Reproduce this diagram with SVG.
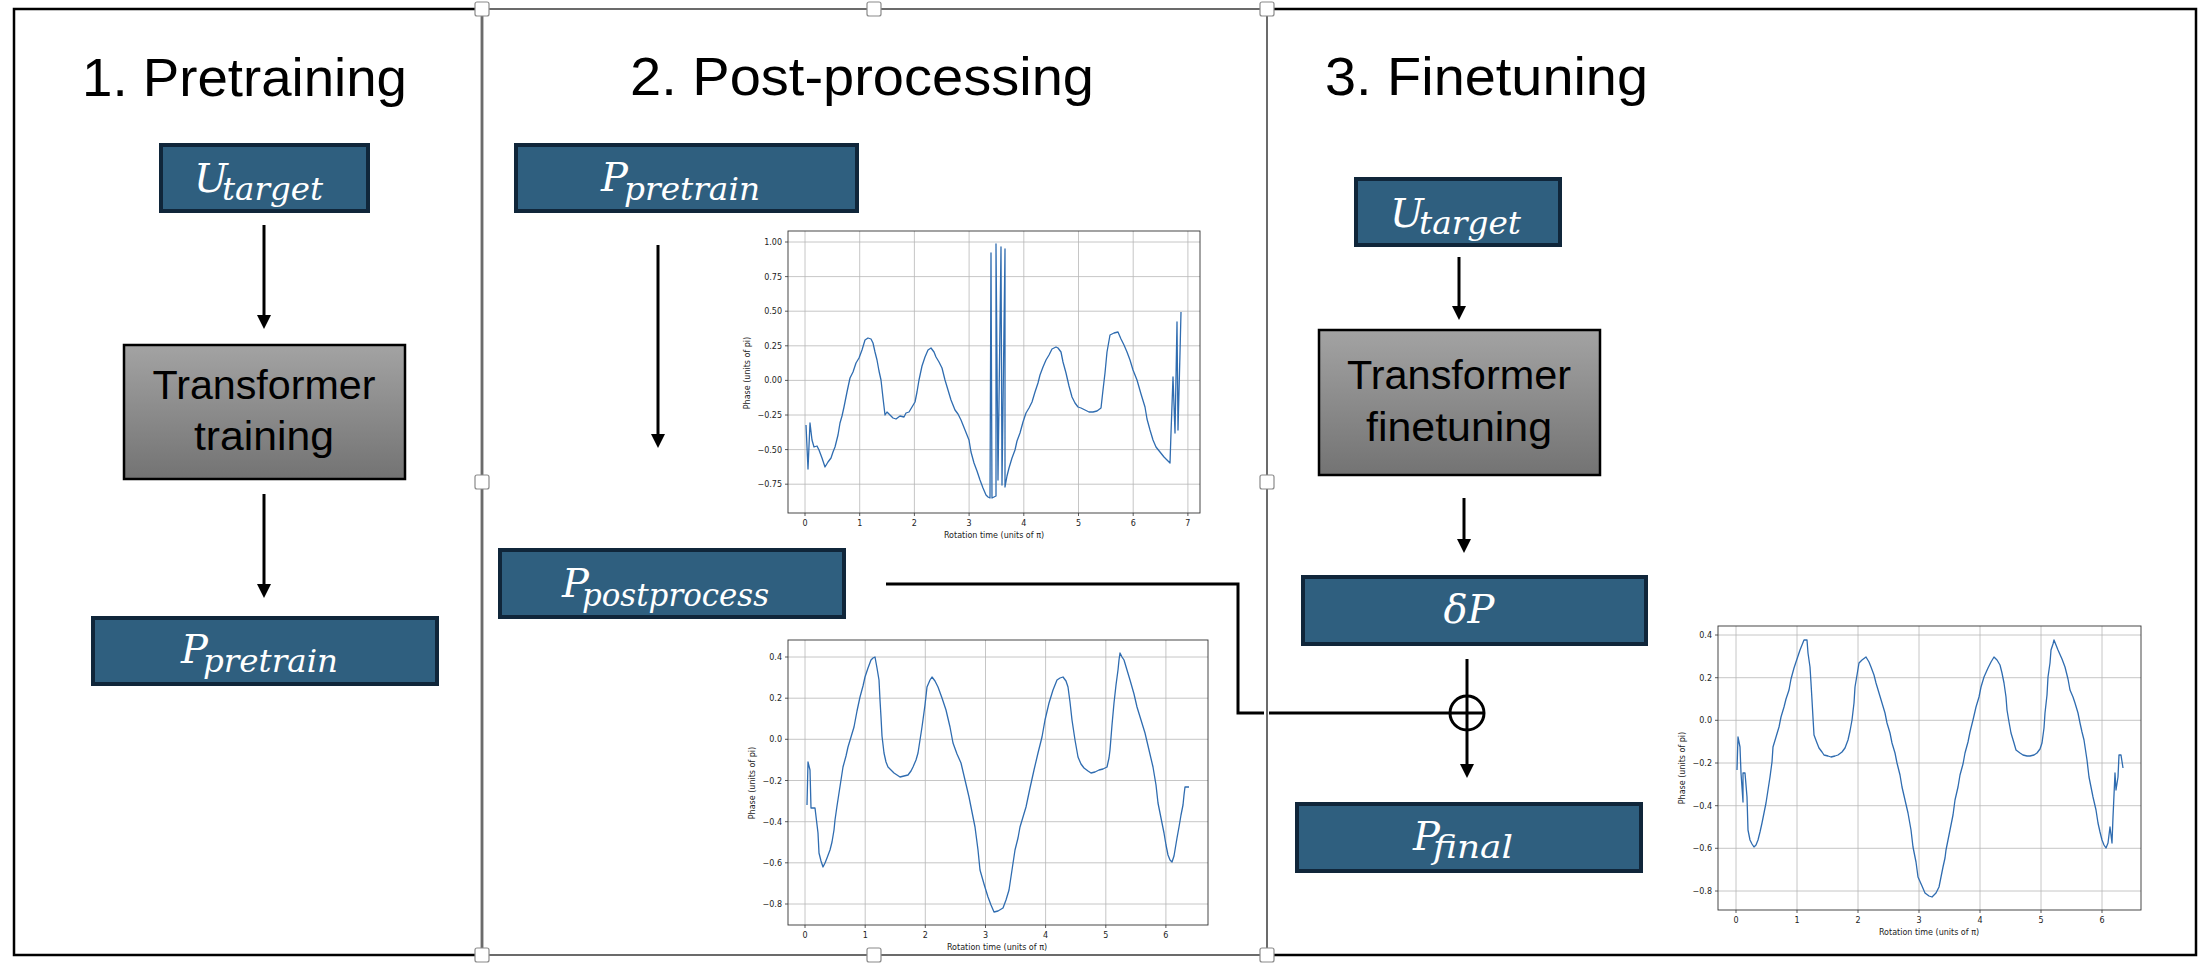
<svg xmlns="http://www.w3.org/2000/svg" width="2202" height="968" viewBox="0 0 2202 968">
<style>
.title{font-family:"Liberation Sans",Arial,sans-serif;font-size:54px;fill:#000}
.tr{font-family:"Liberation Sans",Arial,sans-serif;font-size:40px;fill:#000;text-anchor:middle}
.box{fill:#2f5f7f;stroke:#10263a;stroke-width:4}
.gbox{fill:url(#gg);stroke:#000;stroke-width:2.5}
.m{font-family:"DejaVu Serif",serif;font-style:italic;font-size:40px;fill:#fff}
.s{font-size:31px}
.con{stroke:#000;stroke-width:3;fill:none}
.frame{fill:none;stroke:#000;stroke-width:2.5}
.sel{fill:none;stroke:#6b6b6b;stroke-width:2}
.hdl{fill:#fff;stroke:#8a8a8a;stroke-width:1.2}
.ax{fill:none;stroke:#333;stroke-width:0.9}
.grid{stroke:#b8b8b8;stroke-width:0.8}
.tk{stroke:#333;stroke-width:0.8}
.tl{font-family:"DejaVu Sans",sans-serif;font-size:8px;fill:#222}
.cv{fill:none;stroke:#2f6cb0;stroke-width:1.3;stroke-linejoin:round}
</style>
<defs>
<linearGradient id="gg" x1="0" y1="0" x2="0" y2="1">
<stop offset="0" stop-color="#a3a3a3"/>
<stop offset="1" stop-color="#737373"/>
</linearGradient>
<marker id="ah" viewBox="0 0 14 14" refX="4" refY="7" markerWidth="14" markerHeight="14" markerUnits="userSpaceOnUse" orient="auto">
<path d="M0,0 L14,7 L0,14 z" fill="#000"/>
</marker>
</defs>
<rect width="2202" height="968" fill="#fff"/>

<g id="panels">
<rect class="frame" x="14" y="9" width="468" height="946"/>
<polyline class="frame" points="1267,9 2196,9 2196,955 1267,955"/>
<rect class="sel" x="482" y="9" width="785" height="946"/>
</g>

<g id="titles">
<text class="title" x="82" y="96" textLength="325" lengthAdjust="spacingAndGlyphs">1. Pretraining</text>
<text class="title" x="630" y="95" textLength="464" lengthAdjust="spacingAndGlyphs">2. Post-processing</text>
<text class="title" x="1325" y="95" textLength="323" lengthAdjust="spacingAndGlyphs">3. Finetuning</text>
</g>

<g id="u-target-1">
<rect class="box" x="161" y="145" width="207" height="66"/>
<text class="m" x="194" y="192">U<tspan class="s" x="222" y="200" textLength="101" lengthAdjust="spacingAndGlyphs">target</tspan></text>
</g>

<g id="transformer-training">
<rect class="gbox" x="124" y="345" width="281" height="134"/>
<text class="tr" x="264" y="399" textLength="223" lengthAdjust="spacingAndGlyphs">Transformer</text>
<text class="tr" x="264" y="450" textLength="140" lengthAdjust="spacingAndGlyphs">training</text>
</g>

<g id="p-pretrain-1">
<rect class="box" x="93" y="618" width="344" height="66"/>
<text class="m" x="181" y="663">P<tspan class="s" x="203" y="672" textLength="135" lengthAdjust="spacingAndGlyphs">pretrain</tspan></text>
</g>

<g id="p-pretrain-2">
<rect class="box" x="516" y="145" width="341" height="66"/>
<text class="m" x="601" y="191">P<tspan class="s" x="624" y="200" textLength="136" lengthAdjust="spacingAndGlyphs">pretrain</tspan></text>
</g>

<g id="p-postprocess">
<rect class="box" x="500" y="550" width="344" height="67"/>
<text class="m" x="562" y="597">P<tspan class="s" x="582" y="606" textLength="187" lengthAdjust="spacingAndGlyphs">postprocess</tspan></text>
</g>

<g id="u-target-3">
<rect class="box" x="1356" y="179" width="204" height="66"/>
<text class="m" x="1390" y="227">U<tspan class="s" x="1419" y="234" textLength="102" lengthAdjust="spacingAndGlyphs">target</tspan></text>
</g>

<g id="transformer-finetuning">
<rect class="gbox" x="1319" y="330" width="281" height="145"/>
<text class="tr" x="1459" y="389" textLength="224" lengthAdjust="spacingAndGlyphs">Transformer</text>
<text class="tr" x="1459" y="441" textLength="186" lengthAdjust="spacingAndGlyphs">finetuning</text>
</g>

<g id="delta-p">
<rect class="box" x="1303" y="577" width="343" height="67"/>
<text class="m" x="1469" y="623" text-anchor="middle">δP</text>
</g>

<g id="p-final">
<rect class="box" x="1297" y="804" width="344" height="67"/>
<text class="m" x="1413" y="850">P<tspan class="s" x="1433" y="858" textLength="80" lengthAdjust="spacingAndGlyphs">final</tspan></text>
</g>

<g id="chart-pretrain">
<g class="grid">
<line x1="805" y1="231" x2="805" y2="513"/><line x1="859.7" y1="231" x2="859.7" y2="513"/><line x1="914.4" y1="231" x2="914.4" y2="513"/><line x1="969.1" y1="231" x2="969.1" y2="513"/><line x1="1023.8" y1="231" x2="1023.8" y2="513"/><line x1="1078.5" y1="231" x2="1078.5" y2="513"/><line x1="1133.2" y1="231" x2="1133.2" y2="513"/><line x1="1187.9" y1="231" x2="1187.9" y2="513"/>
<line x1="788" y1="242" x2="1200" y2="242"/><line x1="788" y1="276.6" x2="1200" y2="276.6"/><line x1="788" y1="311.2" x2="1200" y2="311.2"/><line x1="788" y1="345.8" x2="1200" y2="345.8"/><line x1="788" y1="380.4" x2="1200" y2="380.4"/><line x1="788" y1="415" x2="1200" y2="415"/><line x1="788" y1="449.6" x2="1200" y2="449.6"/><line x1="788" y1="484.2" x2="1200" y2="484.2"/>
</g>
<polyline class="cv" points="806,425 808,469 810,423 812,440 814,447 817,446 819,450 822,458 825,467 828,462 831,458 833,452 835,447 838,435 840,423 842,416 844,407 847,392 850,378 853,372 856,363 859,358 862,350 865,340 868,338 871,339 873,343 875,352 877,360 879,371 881,380 883,398 885,415 887,412 890,415 893,418 896,419 900,416 904,417 906,413 909,412 912,407 915,402 917,392 919,380 922,366 925,357 928,350 931,348 934,352 936,357 939,362 942,368 945,380 948,390 951,400 955,410 958,414 961,420 965,430 969,440 971,452 974,463 977,471 980,480 983,488 986,495 988,497 990,498 991,253 992,498 994,497 996,496 996,244 998,480 1001,247 1002,485 1005,249 1005,487 1007,476 1009,468 1012,458 1015,450 1017,441 1020,433 1023,422 1026,413 1029,408 1032,402 1035,392 1038,383 1040,375 1043,367 1046,360 1049,355 1052,349 1056,347 1058,348 1061,352 1063,362 1066,373 1069,386 1072,397 1075,403 1078,407 1081,408 1085,410 1089,412 1093,412 1097,411 1101,408 1103,390 1105,373 1107,352 1110,335 1114,333 1118,332 1121,339 1124,345 1127,352 1130,360 1133,370 1137,380 1141,394 1145,407 1147,419 1150,430 1153,440 1156,447 1160,452 1164,457 1167,460 1170,463 1171,433 1173,377 1175,433 1177,322 1178,430 1180,353 1181,312"/>
<rect class="ax" x="788" y="231" width="412" height="282"/>
<g class="tk">
<line x1="785" y1="242" x2="788" y2="242"/><line x1="785" y1="276.6" x2="788" y2="276.6"/><line x1="785" y1="311.2" x2="788" y2="311.2"/><line x1="785" y1="345.8" x2="788" y2="345.8"/><line x1="785" y1="380.4" x2="788" y2="380.4"/><line x1="785" y1="415" x2="788" y2="415"/><line x1="785" y1="449.6" x2="788" y2="449.6"/><line x1="785" y1="484.2" x2="788" y2="484.2"/>
<line x1="805" y1="513" x2="805" y2="516"/><line x1="859.7" y1="513" x2="859.7" y2="516"/><line x1="914.4" y1="513" x2="914.4" y2="516"/><line x1="969.1" y1="513" x2="969.1" y2="516"/><line x1="1023.8" y1="513" x2="1023.8" y2="516"/><line x1="1078.5" y1="513" x2="1078.5" y2="516"/><line x1="1133.2" y1="513" x2="1133.2" y2="516"/><line x1="1187.9" y1="513" x2="1187.9" y2="516"/>
</g>
<g class="tl" text-anchor="end">
<text x="782" y="245">1.00</text><text x="782" y="279.6">0.75</text><text x="782" y="314.2">0.50</text><text x="782" y="348.8">0.25</text><text x="782" y="383.4">0.00</text><text x="782" y="418">−0.25</text><text x="782" y="452.6">−0.50</text><text x="782" y="487.2">−0.75</text>
</g>
<g class="tl" text-anchor="middle">
<text x="805" y="526">0</text><text x="859.7" y="526">1</text><text x="914.4" y="526">2</text><text x="969.1" y="526">3</text><text x="1023.8" y="526">4</text><text x="1078.5" y="526">5</text><text x="1133.2" y="526">6</text><text x="1187.9" y="526">7</text>
<text x="994" y="538">Rotation time (units of π)</text>
<text transform="translate(750,373) rotate(-90)">Phase (units of pi)</text>
</g>
</g>

<g id="chart-postprocess">
<g class="grid">
<line x1="805" y1="640" x2="805" y2="925"/><line x1="865.2" y1="640" x2="865.2" y2="925"/><line x1="925.3" y1="640" x2="925.3" y2="925"/><line x1="985.5" y1="640" x2="985.5" y2="925"/><line x1="1045.6" y1="640" x2="1045.6" y2="925"/><line x1="1105.8" y1="640" x2="1105.8" y2="925"/><line x1="1165.9" y1="640" x2="1165.9" y2="925"/>
<line x1="788" y1="657" x2="1208" y2="657"/><line x1="788" y1="698.2" x2="1208" y2="698.2"/><line x1="788" y1="739.3" x2="1208" y2="739.3"/><line x1="788" y1="780.5" x2="1208" y2="780.5"/><line x1="788" y1="821.7" x2="1208" y2="821.7"/><line x1="788" y1="862.8" x2="1208" y2="862.8"/><line x1="788" y1="904" x2="1208" y2="904"/>
</g>
<polyline class="cv" points="807,805 808,762 810,770 811,808 815,808 818,833 819,853 821,861 823,867 825,863 827,858 830,850 832,842 834,830 835,820 837,806 839,793 841,780 843,767 846,756 848,747 851,737 854,727 857,711 860,697 863,686 865,677 868,668 871,660 873,658 875,657 877,668 879,680 880,700 881,717 882,736 884,753 886,762 888,767 891,770 894,773 897,775 900,777 904,776 908,775 911,771 913,767 916,760 918,753 920,740 922,727 925,705 927,687 930,680 932,677 935,681 938,687 942,698 946,710 950,727 953,743 957,754 961,763 965,780 969,797 972,812 975,827 978,850 980,870 984,884 988,897 991,905 994,912 998,911 1003,908 1006,900 1009,890 1012,870 1015,850 1018,838 1020,827 1023,817 1026,807 1030,788 1034,770 1038,753 1042,737 1045,720 1049,703 1053,690 1057,680 1060,678 1063,677 1066,681 1068,687 1070,702 1072,720 1075,740 1078,757 1081,764 1084,768 1088,771 1091,773 1095,772 1099,770 1103,769 1107,767 1109,758 1110,750 1112,725 1114,703 1116,685 1118,670 1119,660 1120,653 1122,657 1124,660 1127,670 1130,680 1134,694 1137,707 1141,720 1145,733 1149,750 1153,767 1156,785 1158,803 1161,818 1164,833 1166,845 1168,855 1170,860 1172,862 1174,856 1175,850 1177,838 1179,827 1181,815 1183,805 1184,795 1185,787 1189,787"/>
<rect class="ax" x="788" y="640" width="420" height="285"/>
<g class="tk">
<line x1="785" y1="657" x2="788" y2="657"/><line x1="785" y1="698.2" x2="788" y2="698.2"/><line x1="785" y1="739.3" x2="788" y2="739.3"/><line x1="785" y1="780.5" x2="788" y2="780.5"/><line x1="785" y1="821.7" x2="788" y2="821.7"/><line x1="785" y1="862.8" x2="788" y2="862.8"/><line x1="785" y1="904" x2="788" y2="904"/>
<line x1="805" y1="925" x2="805" y2="928"/><line x1="865.2" y1="925" x2="865.2" y2="928"/><line x1="925.3" y1="925" x2="925.3" y2="928"/><line x1="985.5" y1="925" x2="985.5" y2="928"/><line x1="1045.6" y1="925" x2="1045.6" y2="928"/><line x1="1105.8" y1="925" x2="1105.8" y2="928"/><line x1="1165.9" y1="925" x2="1165.9" y2="928"/>
</g>
<g class="tl" text-anchor="end">
<text x="782" y="660">0.4</text><text x="782" y="701.2">0.2</text><text x="782" y="742.3">0.0</text><text x="782" y="783.5">−0.2</text><text x="782" y="824.7">−0.4</text><text x="782" y="865.8">−0.6</text><text x="782" y="907">−0.8</text>
</g>
<g class="tl" text-anchor="middle">
<text x="805" y="938">0</text><text x="865.2" y="938">1</text><text x="925.3" y="938">2</text><text x="985.5" y="938">3</text><text x="1045.6" y="938">4</text><text x="1105.8" y="938">5</text><text x="1165.9" y="938">6</text>
<text x="997" y="950">Rotation time (units of π)</text>
<text transform="translate(755,783) rotate(-90)">Phase (units of pi)</text>
</g>
</g>

<g id="chart-final">
<g class="grid">
<line x1="1736" y1="626" x2="1736" y2="910"/><line x1="1797" y1="626" x2="1797" y2="910"/><line x1="1858" y1="626" x2="1858" y2="910"/><line x1="1919" y1="626" x2="1919" y2="910"/><line x1="1980" y1="626" x2="1980" y2="910"/><line x1="2041" y1="626" x2="2041" y2="910"/><line x1="2102" y1="626" x2="2102" y2="910"/>
<line x1="1718" y1="635" x2="2141" y2="635"/><line x1="1718" y1="677.7" x2="2141" y2="677.7"/><line x1="1718" y1="720.3" x2="2141" y2="720.3"/><line x1="1718" y1="763" x2="2141" y2="763"/><line x1="1718" y1="805.7" x2="2141" y2="805.7"/><line x1="1718" y1="848.3" x2="2141" y2="848.3"/><line x1="1718" y1="891" x2="2141" y2="891"/>
</g>
<polyline class="cv" points="1737,770 1738,737 1740,747 1741,773 1743,802 1743,773 1745,773 1747,797 1748,830 1750,840 1752,844 1754,847 1756,845 1758,840 1760,832 1762,823 1764,813 1766,803 1768,790 1770,777 1772,762 1773,747 1776,737 1779,727 1781,717 1784,707 1786,699 1789,690 1791,679 1794,668 1797,659 1800,650 1802,645 1804,640 1807,640 1808,653 1810,667 1811,683 1812,700 1813,718 1814,735 1817,743 1819,748 1822,752 1824,755 1828,756 1831,757 1835,756 1838,755 1842,752 1845,748 1848,740 1850,731 1852,720 1854,703 1855,687 1857,675 1859,663 1862,660 1866,657 1869,662 1871,667 1874,675 1876,683 1879,693 1882,703 1885,713 1887,723 1890,733 1892,743 1895,753 1897,763 1900,775 1902,787 1905,800 1908,813 1911,830 1913,847 1916,862 1918,877 1922,886 1925,893 1929,896 1932,897 1936,893 1939,887 1941,877 1943,867 1945,858 1946,850 1948,840 1950,830 1953,815 1955,800 1958,787 1960,775 1963,764 1965,753 1968,742 1970,732 1973,720 1976,707 1979,697 1981,687 1984,677 1988,668 1991,662 1994,657 1997,660 2000,665 2002,673 2004,683 2006,697 2007,710 2009,722 2011,733 2014,743 2016,750 2020,753 2023,755 2027,756 2030,756 2034,755 2037,753 2040,749 2042,743 2044,728 2045,713 2047,695 2048,677 2050,663 2051,650 2053,644 2054,640 2056,645 2058,650 2062,659 2065,667 2068,679 2070,690 2073,697 2075,703 2078,713 2080,723 2082,732 2084,740 2087,760 2089,777 2091,787 2093,797 2096,810 2098,823 2100,832 2102,840 2104,845 2106,848 2108,843 2110,827 2112,843 2113,817 2115,773 2116,790 2118,777 2119,755 2121,755 2123,768"/>
<rect class="ax" x="1718" y="626" width="423" height="284"/>
<g class="tk">
<line x1="1715" y1="635" x2="1718" y2="635"/><line x1="1715" y1="677.7" x2="1718" y2="677.7"/><line x1="1715" y1="720.3" x2="1718" y2="720.3"/><line x1="1715" y1="763" x2="1718" y2="763"/><line x1="1715" y1="805.7" x2="1718" y2="805.7"/><line x1="1715" y1="848.3" x2="1718" y2="848.3"/><line x1="1715" y1="891" x2="1718" y2="891"/>
<line x1="1736" y1="910" x2="1736" y2="913"/><line x1="1797" y1="910" x2="1797" y2="913"/><line x1="1858" y1="910" x2="1858" y2="913"/><line x1="1919" y1="910" x2="1919" y2="913"/><line x1="1980" y1="910" x2="1980" y2="913"/><line x1="2041" y1="910" x2="2041" y2="913"/><line x1="2102" y1="910" x2="2102" y2="913"/>
</g>
<g class="tl" text-anchor="end">
<text x="1712" y="638">0.4</text><text x="1712" y="680.7">0.2</text><text x="1712" y="723.3">0.0</text><text x="1712" y="766">−0.2</text><text x="1712" y="808.7">−0.4</text><text x="1712" y="851.3">−0.6</text><text x="1712" y="894">−0.8</text>
</g>
<g class="tl" text-anchor="middle">
<text x="1736" y="923">0</text><text x="1797" y="923">1</text><text x="1858" y="923">2</text><text x="1919" y="923">3</text><text x="1980" y="923">4</text><text x="2041" y="923">5</text><text x="2102" y="923">6</text>
<text x="1929" y="935">Rotation time (units of π)</text>
<text transform="translate(1685,768) rotate(-90)">Phase (units of pi)</text>
</g>
</g>

<g id="connectors">
<line class="con" x1="264" y1="225" x2="264" y2="319" marker-end="url(#ah)"/>
<line class="con" x1="264" y1="494" x2="264" y2="588" marker-end="url(#ah)"/>
<line class="con" x1="658" y1="245" x2="658" y2="438" marker-end="url(#ah)"/>
<line class="con" x1="1459" y1="257" x2="1459" y2="310" marker-end="url(#ah)"/>
<line class="con" x1="1464" y1="498" x2="1464" y2="543" marker-end="url(#ah)"/>
<line class="con" x1="1467" y1="659" x2="1467" y2="768" marker-end="url(#ah)"/>
<polyline class="con" points="886,584 1238,584 1238,713 1264,713"/>
<line class="con" x1="1269" y1="713" x2="1484" y2="713"/>
<circle class="con" cx="1467" cy="713" r="17"/>
</g>

<g id="handles">
<rect class="hdl" x="475" y="2" width="14" height="14" rx="2"/>
<rect class="hdl" x="867" y="2" width="14" height="14" rx="2"/>
<rect class="hdl" x="1260" y="2" width="14" height="14" rx="2"/>
<rect class="hdl" x="475" y="475" width="14" height="14" rx="2"/>
<rect class="hdl" x="1260" y="475" width="14" height="14" rx="2"/>
<rect class="hdl" x="475" y="948" width="14" height="14" rx="2"/>
<rect class="hdl" x="867" y="948" width="14" height="14" rx="2"/>
<rect class="hdl" x="1260" y="948" width="14" height="14" rx="2"/>
</g>
</svg>
